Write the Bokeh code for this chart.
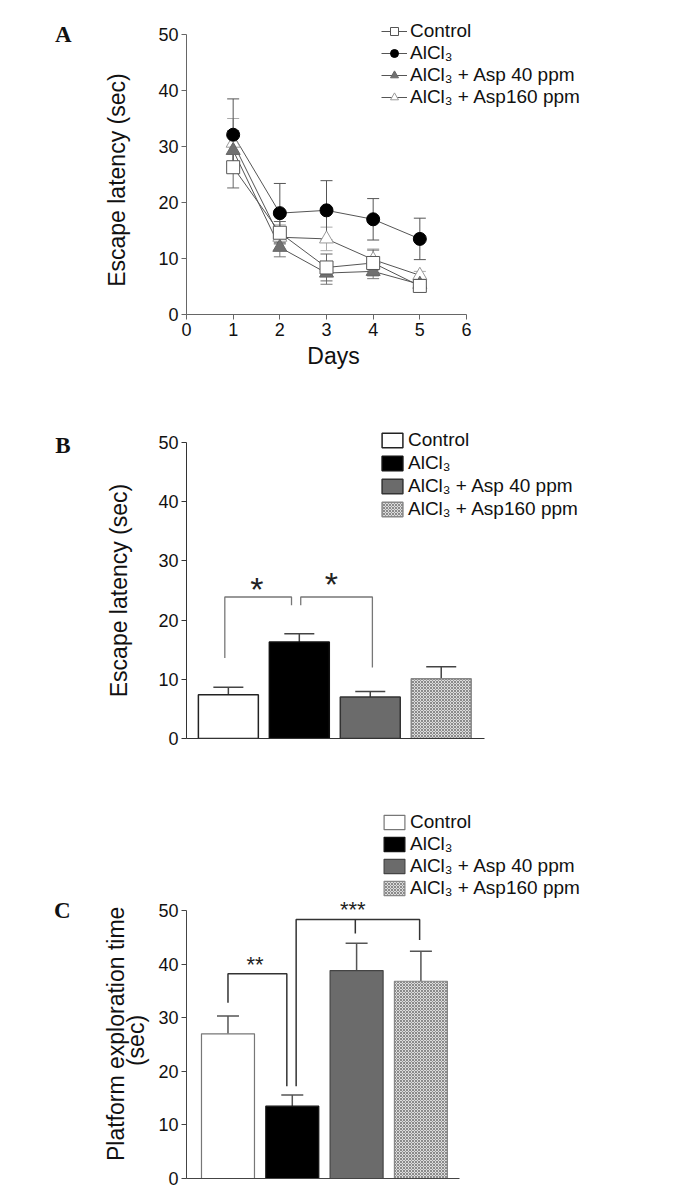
from bokeh.plotting import figure
from bokeh.models import (Range1d, Legend, LegendItem, Whisker, TeeHead,
                          ColumnDataSource, Label, FixedTicker, LinearAxis)
from bokeh.layouts import column
from bokeh.embed import file_html
from bokeh.resources import INLINE

# ---------------- data ----------------
days = [1, 2, 3, 4, 5]
day_ticks = [0, 1, 2, 3, 4, 5, 6]
y_ticks = [0, 10, 20, 30, 40, 50]
groups = ["Control", "AlCl\u2083", "AlCl\u2083 + Asp 40 ppm", "AlCl\u2083 + Asp160 ppm"]

# Panel A: escape latency over training days (mean, SEM)
lat_control = [26.3, 14.6, 8.4, 9.2, 5.1]
lat_control_sem = [3.7, 2.0, 2.4, 2.3, 0.8]
lat_alcl3 = [32.1, 18.1, 18.6, 17.0, 13.5]
lat_alcl3_sem = [6.4, 5.3, 5.3, 3.7, 3.7]
lat_asp40 = [29.3, 12.0, 7.4, 7.7, 5.4]
lat_asp40_sem = [3.5, 1.7, 2.0, 1.3, 0.8]
lat_asp160 = [30.6, 13.8, 13.5, 9.8, 7.0]
lat_asp160_sem = [4.4, 2.2, 2.1, 1.9, 0.7]

# Panel B: escape latency (probe)
probe_latency = [7.4, 16.3, 7.0, 10.1]
probe_latency_sem = [1.25, 1.4, 0.95, 2.0]

# Panel C: platform exploration time
exploration = [27.0, 13.5, 38.8, 36.8]
exploration_sem = [3.3, 2.1, 5.1, 5.6]

# significance annotations: (x_left, x_right, y_top, y_left_end, y_right_end)
brackets_b = [(0.95, 1.89, 23.9, 13.6, 22.5), (2.02, 3.03, 23.9, 22.5, 12.0)]
stars_b = [(1.40, 25.3, "*"), (2.45, 26.1, "*")]
brackets_c = [(1.0, 1.915, 38.2, 32.8, 17.2), (2.06, 3.98, 48.3, 17.2, 44.5)]
mid_tick_c = (2.98, 48.3, 45.7)
stars_c = [(1.42, 39.9, "**"), (2.94, 50.1, "***")]

FONT = "Liberation Sans"
bar_x = [i + 1 for i in range(len(groups))]


def base_fig(fw, fh, left, top, right, bottom, xr, yr, axis_color):
    p = figure(frame_width=fw, frame_height=fh, x_range=xr, y_range=yr,
               output_backend="svg", toolbar_location=None,
               min_border_left=left, min_border_top=top,
               min_border_right=right, min_border_bottom=bottom)
    p.outline_line_color = None
    p.xgrid.visible = False
    p.ygrid.visible = False
    p.background_fill_color = "white"
    p.border_fill_color = "white"
    for ax in (p.xaxis[0], p.yaxis[0]):
        ax.axis_line_color = axis_color
        ax.major_tick_line_color = axis_color
        ax.minor_tick_line_color = None
        ax.major_tick_out = 5
        ax.major_tick_in = 0
        ax.major_label_text_font = FONT
        ax.major_label_text_font_size = "18px"
        ax.major_label_text_color = "#111111"
        ax.major_label_standoff = 3
    p.yaxis[0].ticker = FixedTicker(ticks=y_ticks)
    p.yaxis[0].bounds = (0, 50)
    return p


def side_text(p, side, pos, text, standoff, font=FONT, style="normal", size="23px",
              orientation="parallel"):
    """Text placed in a border through an extra (invisible) axis."""
    ax = LinearAxis(ticker=FixedTicker(ticks=[pos]), major_label_overrides={pos: text},
                    axis_line_color=None, major_tick_line_color=None,
                    minor_tick_line_color=None, major_tick_out=0, major_tick_in=0,
                    major_label_text_font=font, major_label_text_font_style=style,
                    major_label_text_font_size=size, major_label_text_color="#111111",
                    major_label_standoff=standoff, major_label_orientation=orientation)
    p.add_layout(ax, side)


def panel_letter(p, text, pos, standoff):
    side_text(p, "left", pos, text, standoff, font="Liberation Serif", style="bold",
              size="23px", orientation="horizontal")


def style_legend(leg, gh, sp):
    leg.label_text_font = FONT
    leg.label_text_font_size = "19px"
    leg.label_text_color = "#111111"
    leg.glyph_width = 26
    leg.glyph_height = gh
    leg.label_height = gh
    leg.spacing = sp
    leg.padding = 0
    leg.margin = 0
    leg.label_standoff = 3
    leg.border_line_color = None
    leg.background_fill_alpha = 0


# ---------------- Panel A ----------------
# frame: x 186..640 (0..6 -> 186..466), y 12..314 (0..50 -> 314..34)
pa = base_fig(454, 302, 186, 12, 10, 66, Range1d(0, 6 * 454 / 280),
              Range1d(0, 50 * 302 / 280), "#666666")
pa.xaxis[0].ticker = FixedTicker(ticks=day_ticks)
pa.xaxis[0].bounds = (0, 6)
side_text(pa, "below", 3.15, "Days", 4, orientation="horizontal")
side_text(pa, "left", 24, "Escape latency (sec)", 25)

series = [
    (lat_asp160, lat_asp160_sem, "triangle", "white", "#999999", "#aaaaaa"),
    (lat_asp40, lat_asp40_sem, "triangle", "#707070", "#666666", "#777777"),
    (lat_alcl3, lat_alcl3_sem, "circle", "black", "black", "#555555"),
    (lat_control, lat_control_sem, "square", "white", "#555555", "#666666"),
]
names_a = [groups[3], groups[2], groups[1], groups[0]]
items = {}
line_rs = []
for (vals, sem, mk, fc, lc, ec), name in zip(series, names_a):
    src = ColumnDataSource(dict(x=days, y=vals,
                                lo=[v - s for v, s in zip(vals, sem)],
                                hi=[v + s for v, s in zip(vals, sem)]))
    lr = pa.line("x", "y", source=src, line_color="#555555", line_width=1)
    w = Whisker(source=src, base="x", lower="lo", upper="hi", line_color=ec,
                line_width=1,
                upper_head=TeeHead(size=12, line_color=ec, line_width=1),
                lower_head=TeeHead(size=12, line_color=ec, line_width=1))
    pa.add_layout(w)
    line_rs.append((lr, src, mk, fc, lc, name))
for lr, src, mk, fc, lc, name in line_rs:
    size = 14 if mk == "triangle" else 13
    sr = pa.scatter("x", "y", source=src, marker=mk, size=size, fill_color=fc,
                    line_color=lc, line_width=1)
    items[name] = [lr, sr]

leg_a = Legend(items=[LegendItem(label=g, renderers=items[g]) for g in groups],
               location=(195, 206))
style_legend(leg_a, 20, 0)
pa.add_layout(leg_a)
panel_letter(pa, "A", 50, 30)

# ---------------- bar helper ----------------
bar_fill = ["white", "black", "#6b6b6b", "#dcdcdc"]
bar_hatch = [None, None, None, "diagonal_cross"]


def bars(p, vals, sem, width, cap, err_color, leg_loc, gh, sp, outline_w, outline_c):
    rs = []
    for i, g in enumerate(groups):
        kw = {}
        if bar_hatch[i]:
            kw = dict(hatch_pattern=bar_hatch[i], hatch_color="#8a8a8a",
                      hatch_scale=3, hatch_weight=1)
        r = p.vbar(x=[bar_x[i]], top=[vals[i]], bottom=0, width=width,
                   fill_color=bar_fill[i], line_color=outline_c[i],
                   line_width=outline_w, **kw)
        rs.append(r)
    src = ColumnDataSource(dict(x=bar_x, lo=vals,
                                hi=[v + s for v, s in zip(vals, sem)]))
    p.add_layout(Whisker(source=src, base="x", lower="lo", upper="hi",
                         line_color=err_color, line_width=1.5, lower_head=None,
                         upper_head=TeeHead(size=cap, line_color=err_color,
                                            line_width=1.5)))
    leg = Legend(items=[LegendItem(label=g, renderers=[r]) for g, r in zip(groups, rs)],
                 location=leg_loc)
    style_legend(leg, gh, sp)
    p.add_layout(leg)


def no_xticks(p, bounds):
    p.xaxis[0].ticker = FixedTicker(ticks=[])
    p.xaxis[0].major_label_text_font_size = "0px"
    p.xaxis[0].major_tick_out = 0
    p.xaxis[0].major_label_standoff = 0
    p.xaxis[0].bounds = bounds


# ---------------- Panel B ----------------
# frame: x 185..640 (0.41..4.61 -> 185..483), y 420..738 (0..50 -> 738..442)
pb = base_fig(455, 318, 185, 40, 10, 32, Range1d(0.41, 0.41 + 455 * 4.2 / 298),
              Range1d(0, 50 * 318 / 296), "#333333")
no_xticks(pb, (0.41, 4.61))
side_text(pb, "left", 25, "Escape latency (sec)", 24)
bars(pb, probe_latency, probe_latency_sem, 0.845, 30, "#444444", (193, 218), 18, 1, 1.5,
     ["#222222", "#111111", "#333333", "#888888"])
for xl, xr, yt, yl, yr in brackets_b:
    pb.line([xl, xl, xr, xr], [yl, yt, yt, yr], line_color="#777777", line_width=1.3)
for x, y, t in stars_b:
    pb.add_layout(Label(x=x, y=y, text=t, text_font=FONT, text_font_size="34px",
                        text_align="center", text_baseline="middle", text_color="#222222"))
panel_letter(pb, "B", 49.5, 32)

# ---------------- Panel C ----------------
# frame: x 183..640 (0.355..4.6 -> 183..456), y 800..1178 (0..50 -> 1178..910)
pc = base_fig(457, 378, 183, 30, 10, 10, Range1d(0.355, 0.355 + 457 * 4.245 / 273),
              Range1d(0, 50 * 378 / 268), "#444444")
no_xticks(pc, (0.355, 4.6))
side_text(pc, "left", 25.75, "(sec)", 6)
side_text(pc, "left", 27, "Platform exploration time", -9)
bars(pc, exploration, exploration_sem, 0.824, 22, "#555555", (195, 279), 18, 0, 1.2,
     ["#777777", "#111111", "#444444", "#888888"])
for xl, xr, yt, yl, yr in brackets_c:
    pc.line([xl, xl, xr, xr], [yl, yt, yt, yr], line_color="#333333", line_width=1.5)
pc.line([mid_tick_c[0], mid_tick_c[0]], [mid_tick_c[1], mid_tick_c[2]],
        line_color="#333333", line_width=1.5)
for x, y, t in stars_c:
    pc.add_layout(Label(x=x, y=y, text=t, text_font=FONT, text_font_size="22px",
                        text_align="center", text_baseline="middle", text_color="#222222"))
panel_letter(pc, "C", 50, 30)

layout = column(pa, pb, pc, spacing=0)
open("out.html", "w").write(file_html(layout, INLINE))
